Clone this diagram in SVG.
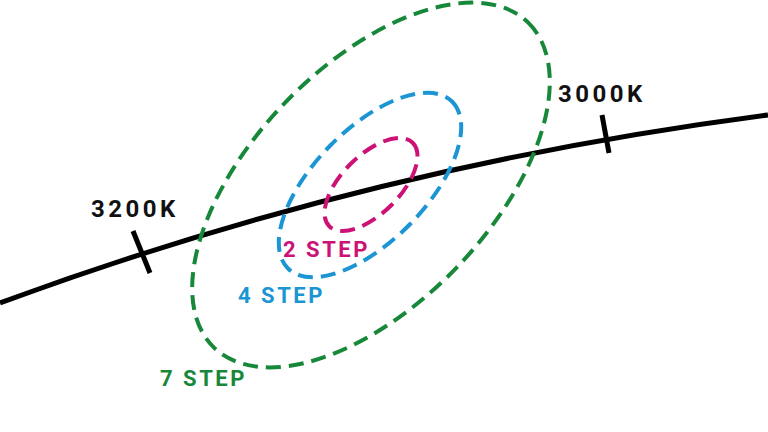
<svg xmlns="http://www.w3.org/2000/svg" width="768" height="432" viewBox="0 0 768 432">
<style>
.ring{fill:none;stroke-width:4;stroke-dasharray:15 8}
.lbl{font-family:Roboto,"Liberation Sans",sans-serif;font-weight:700;font-size:22px;letter-spacing:2.5px}
.temp{font-family:Roboto,"Liberation Sans",sans-serif;font-weight:700;font-size:24px;letter-spacing:3.5px;fill:#111}
</style>
<rect width="768" height="432" fill="#fff"/>
<g id="locus">
<path d="M0,303 Q367.5,167 768,115" fill="none" stroke="#000" stroke-width="5"/>
</g>
<g id="ticks">
<line x1="133" y1="231" x2="150" y2="273" stroke="#000" stroke-width="5"/>
<line x1="602" y1="115" x2="609" y2="153" stroke="#000" stroke-width="5"/>
</g>
<g id="step7">
<ellipse class="ring" cx="371" cy="185" rx="226" ry="119" transform="rotate(-46 371 185)" stroke="#17883a"/>
<text class="lbl" x="160" y="386" fill="#17883a">7 STEP</text>
</g>
<g id="step4">
<ellipse class="ring" cx="370" cy="185" rx="117" ry="56" transform="rotate(-45.5 370 185)" stroke="#1b95d3"/>
<text class="lbl" x="238" y="303" fill="#1b95d3">4 STEP</text>
</g>
<g id="step2">
<ellipse class="ring" cx="371" cy="184.5" rx="59" ry="29" transform="rotate(-45 371 184.5)" stroke="#cc1177"/>
<text class="lbl" x="283" y="257" fill="#cc1177">2 STEP</text>
</g>
<g id="label3200">
<text class="temp" x="91" y="217">3200K</text>
</g>
<g id="label3000">
<text class="temp" x="558" y="102">3000K</text>
</g>
</svg>
